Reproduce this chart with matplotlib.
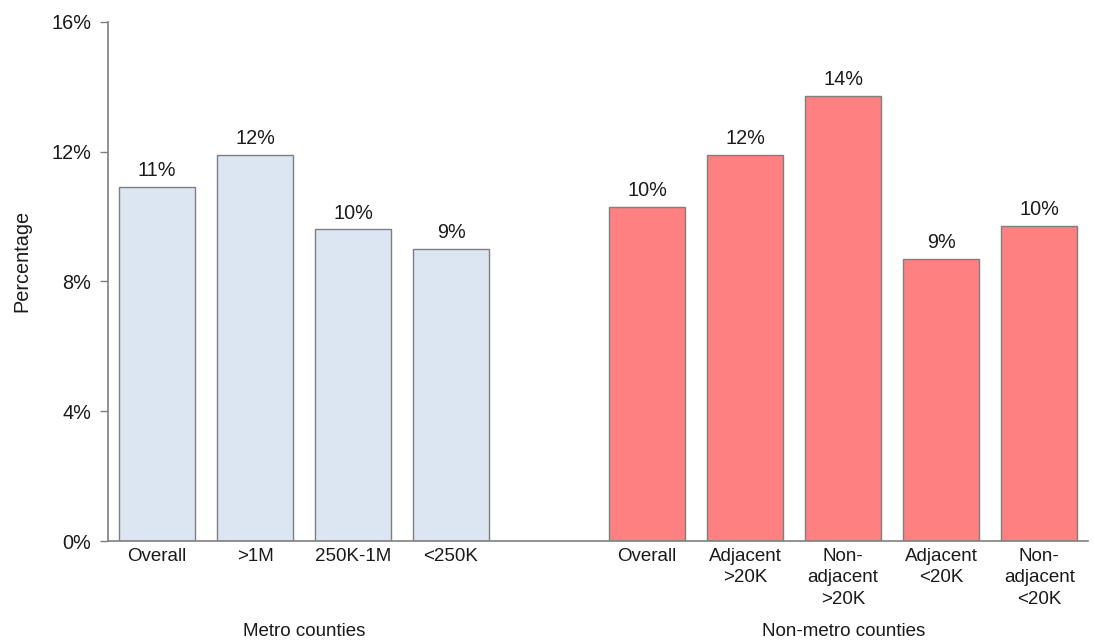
import matplotlib.pyplot as plt

plt.rcParams['font.family'] = ['Liberation Sans', 'DejaVu Sans']

# share of each county group (percent)
metro_labels = ['Overall', '>1M', '250K-1M', '<250K']
metro_values = [10.9, 11.9, 9.6, 9.0]
nonmetro_labels = ['Overall', 'Adjacent\n>20K', 'Non-\nadjacent\n>20K', 'Adjacent\n<20K', 'Non-\nadjacent\n<20K']
nonmetro_values = [10.3, 11.9, 13.7, 8.7, 9.7]
group_names = ['Metro counties', 'Non-metro counties']

metro_x = list(range(len(metro_values)))
nonmetro_x = [len(metro_values) + 1 + i for i in range(len(nonmetro_values))]

fig = plt.figure(figsize=(10.94, 6.41), dpi=100)
ax = fig.add_axes([0.0987, 0.156, 0.896, 0.81])

bars_m = ax.bar(metro_x, metro_values, width=0.78, color='#dce6f2',
                edgecolor='#7f7f7f', linewidth=1.0)
bars_n = ax.bar(nonmetro_x, nonmetro_values, width=0.78, color='#ff8080',
                edgecolor='#7f7f7f', linewidth=1.0)

for bars, vals in [(bars_m, metro_values), (bars_n, nonmetro_values)]:
    for b, v in zip(bars, vals):
        ax.annotate(f'{v:.0f}%', (b.get_x() + b.get_width() / 2, v),
                    xytext=(0, 5), textcoords='offset points',
                    ha='center', va='bottom', fontsize=14.3, color='#1a1a1a')

ax.set_xlim(-0.5, nonmetro_x[-1] + 0.5)
ax.set_ylim(0, 16)
ax.set_yticks([0, 4, 8, 12, 16])
ax.set_yticklabels(['0%', '4%', '8%', '12%', '16%'], fontsize=14.3, color='#1a1a1a')
ax.tick_params(axis='y', length=6, width=1, color='#7f7f7f', pad=6)

ax.set_xticks(metro_x + nonmetro_x)
ax.set_xticklabels(metro_labels + nonmetro_labels, fontsize=13.5, color='#1a1a1a',
                   linespacing=1.35, va='top')
ax.tick_params(axis='x', length=0, pad=5)

for side in ['top', 'right']:
    ax.spines[side].set_visible(False)
for side in ['left', 'bottom']:
    ax.spines[side].set_color('#7f7f7f')
    ax.spines[side].set_linewidth(1.2)

ax.set_ylabel('Percentage', fontsize=14.3, color='#1a1a1a')
ax.yaxis.set_label_coords(-0.078, 0.54)

# group captions under each block of bars
for name, xs in zip(group_names, [metro_x, nonmetro_x]):
    ax.text((xs[0] + xs[-1]) / 2, -0.174, name, transform=ax.get_xaxis_transform(),
            ha='center', va='center', fontsize=13.5, color='#1a1a1a')

fig.savefig('out.png', dpi=100, facecolor='white')
